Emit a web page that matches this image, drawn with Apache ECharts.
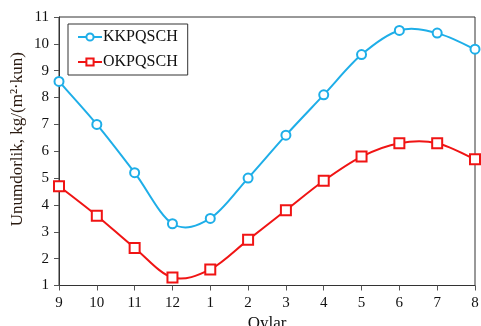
<!DOCTYPE html>
<html><head><meta charset="utf-8">
<script src="https://cdn.jsdelivr.net/npm/echarts@6/dist/echarts.min.js"></script>
<style>html,body{margin:0;padding:0;background:#fff}#c{width:481px;height:326px}</style>
</head><body><div id="c"></div>
<script>
var months = ['9','10','11','12','1','2','3','4','5','6','7','8'];
var kkpqsch = [8.6, 7.0, 5.2, 3.3, 3.5, 5.0, 6.6, 8.1, 9.6, 10.5, 10.4, 9.8];
var okpqsch = [4.7, 3.6, 2.4, 1.3, 1.6, 2.7, 3.8, 4.9, 5.8, 6.3, 6.3, 5.7];
var seriesNames = ['KKPQSCH', 'OKPQSCH'];
var colors = ['#1EAEE8', '#F01414'];
var font = '"Liberation Serif", "Times New Roman", serif';

function splineSeries(values, color, name) {
  return {
    name: name, type: 'custom', z: 1, silent: true,
    data: values.map(function (v, i) { return [i, v]; }),
    encode: {x: 0, y: 1},
    renderItem: function (params, api) {
      var i = params.dataIndex, n = values.length;
      if (i >= n - 1) return null;
      var p0 = api.coord([Math.max(i - 1, 0), values[Math.max(i - 1, 0)]]);
      var p1 = api.coord([i, values[i]]);
      var p2 = api.coord([i + 1, values[i + 1]]);
      var p3 = api.coord([Math.min(i + 2, n - 1), values[Math.min(i + 2, n - 1)]]);
      var t = 1 / 6;
      return {
        type: 'bezierCurve',
        shape: {
          x1: p1[0], y1: p1[1], x2: p2[0], y2: p2[1],
          cpx1: p1[0] + (p2[0] - p0[0]) * t, cpy1: p1[1] + (p2[1] - p0[1]) * t,
          cpx2: p2[0] - (p3[0] - p1[0]) * t, cpy2: p2[1] - (p3[1] - p1[1]) * t
        },
        style: {stroke: color, lineWidth: 2, fill: null}
      };
    }
  };
}

var chart = echarts.init(document.getElementById('c'), null, {renderer:'canvas'});
chart.setOption({
  animation:false,
  backgroundColor:'#fff',
  grid:{left:59, right:6, top:17, bottom:40.5, containLabel:false, outerBoundsMode:'none', show:true, borderColor:'#333', borderWidth:1, backgroundColor:'transparent'},
  legend:{
    orient:'vertical', left:68, top:24, itemWidth:24, itemHeight:9, itemGap:9,
    padding:[5,10,5,9], borderColor:'#333', borderWidth:1, backgroundColor:'#fff',
    textStyle:{fontFamily:font, fontSize:16, color:'#111', padding:[0,0,0,-4]},
    data:[
      {name:seriesNames[0], lineStyle:{color:colors[0], width:2, opacity:1}},
      {name:seriesNames[1], lineStyle:{color:colors[1], width:2, opacity:1}}
    ]
  },
  xAxis:{
    type:'category', data:months, boundaryGap:false,
    name:'Oylar', nameLocation:'middle', nameGap:27,
    nameTextStyle:{fontFamily:font, fontSize:17, color:'#111'},
    axisLine:{lineStyle:{color:'#333'}},
    axisTick:{show:true, length:5, inside:false, alignWithLabel:true, lineStyle:{color:'#555'}},
    axisLabel:{fontFamily:font, fontSize:15, color:'#111', margin:10},
    splitLine:{show:false}
  },
  yAxis:{
    type:'value', min:1, max:11, interval:1,
    name:'Unumdorlik, kg/(m²·kun)', nameLocation:'middle', nameGap:33, nameMoveOverlap:false,
    nameTextStyle:{fontFamily:font, fontSize:17, color:'#2a1a10', padding:[0,0,0,24]},
    axisLine:{show:true, lineStyle:{color:'#333'}},
    axisTick:{show:true, length:5, lineStyle:{color:'#555'}},
    axisLabel:{fontFamily:font, fontSize:15, color:'#111', margin:10},
    splitLine:{show:false}
  },
  series:[
    splineSeries(kkpqsch, colors[0], 'kk_curve'),
    splineSeries(okpqsch, colors[1], 'ok_curve'),
    {name:seriesNames[0], type:'line', z:3, data:kkpqsch, symbol:'emptyCircle', symbolSize:9,
     itemStyle:{color:colors[0], borderWidth:1.5}, lineStyle:{color:colors[0], width:2, opacity:0}},
    {name:seriesNames[1], type:'line', z:3, data:okpqsch, symbol:'emptyRect', symbolSize:10,
     itemStyle:{color:colors[1], borderWidth:1.5}, lineStyle:{color:colors[1], width:2, opacity:0}}
  ]
});
</script></body></html>
